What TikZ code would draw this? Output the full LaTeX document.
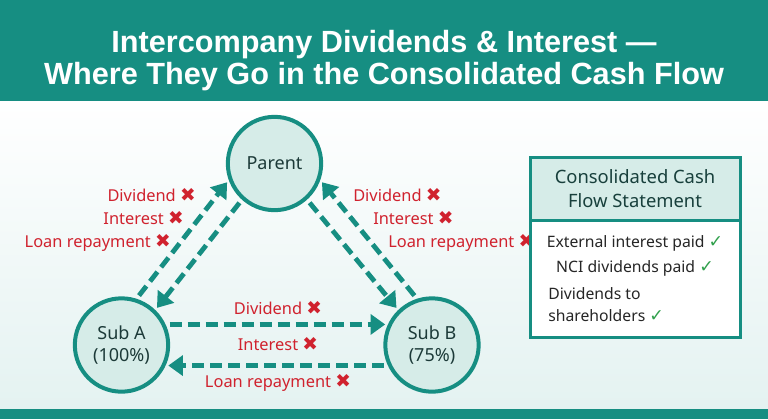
\documentclass[tikz,border=0pt]{standalone}
\definecolor{bandteal}{RGB}{22,142,130}
\definecolor{nodefill}{RGB}{214,236,232}
\definecolor{nodetext}{RGB}{28,58,56}
\definecolor{headtext}{RGB}{24,64,60}
\definecolor{xred}{RGB}{208,34,46}
\definecolor{okgreen}{RGB}{48,160,76}
\definecolor{bgteal}{RGB}{228,242,241}
\usepackage{fontspec}
\setmainfont{Noto Sans}
\newfontfamily\symfont{DejaVu Sans}
\newfontfamily\titlefont{Liberation Sans}
\usepackage{tikz}
\usetikzlibrary{arrows.meta,positioning,calc}
\newcommand{\nomark}{\textcolor{xred}{\symfont\fontsize{14}{14}\selectfont ✖}}
\newcommand{\okmark}{\textcolor{okgreen}{\symfont\fontsize{13}{13}\selectfont ✓}}

\begin{document}
\begin{tikzpicture}[x=0.75pt, y=-0.75pt,
    every node/.style={font=\fontsize{12.3}{14}\selectfont},
    entity/.style={circle, draw=bandteal, line width=3pt, fill=nodefill, text=nodetext,
      minimum size=70pt, inner sep=0pt, align=center, font=\fontsize{13.5}{16.5}\selectfont},
    flow/.style={draw=bandteal, line width=3.6pt, dash pattern=on 9pt off 4.5pt,
      -{Triangle[length=11pt,width=15pt]}, shorten <=3pt, shorten >=2pt},
    lbl/.style={text=xred, inner sep=0pt},
    item/.style={text=black!85, inner sep=0pt, font=\fontsize{11.8}{16.5}\selectfont}]
        \useasboundingbox (0,0) rectangle (768,419);
        % Background and bands
        \shade[top color=white, bottom color=bgteal] (0,100) rectangle (768,409);
        \fill[bandteal] (0,0) rectangle (768,101);
        \fill[bandteal] (0,409) rectangle (768,419);
        \node[text=white, align=center, font=\titlefont\fontsize{23}{24}\selectfont\bfseries] (title) at (384,61)
          {Intercompany Dividends \& Interest —\\Where They Go in the Consolidated Cash Flow};
        % Entities
        \node[entity] (parent) at (274.5,163.5) {Parent};
        \node[entity] (subA) at (121.5,345) {Sub A\\(100\%)};
        \node[entity] (subB) at (432,345) {Sub B\\(75\%)};
        % Flows
        \draw[flow] (subA.72) -- (parent.200);
        \draw[flow] (parent.228) -- (subA.46);
        \draw[flow] (subB.108) -- (parent.340);
        \draw[flow] (parent.312) -- (subB.134);
        \draw[flow] (subA.25) -- (subB.155);
        \draw[flow] (subB.205) -- (subA.335);
        % Labels
        \node[lbl, anchor=east] (la1) at (196,195) {Dividend \nomark};
        \node[lbl, anchor=east] (la2) at (184,218) {Interest \nomark};
        \node[lbl, anchor=east] (la3) at (171,243) {Loan repayment \nomark};
        \node[lbl, anchor=west] (lb1) at (353,195) {Dividend \nomark};
        \node[lbl, anchor=west] (lb2) at (373,218) {Interest \nomark};
        \node[lbl, anchor=west] (lb3) at (388,243) {Loan repayment \nomark};
        \node[lbl] (lc1) at (278,308) {Dividend \nomark};
        \node[lbl] (lc2) at (278,344) {Interest \nomark};
        \node[lbl] (lc3) at (278,383) {Loan repayment \nomark};
        % Cash flow statement
        \fill[white] (530,157) rectangle (740,337);
        \fill[nodefill] (530,157) rectangle (740,220);
        \draw[bandteal, line width=2.25pt] (530,157) rectangle (740,337);
        \draw[bandteal, line width=2.25pt] (530,220) -- (740,220);
        \node[text=headtext, align=center, font=\fontsize{13.8}{17.5}\selectfont] (cfshead) at (635,188.5)
          {Consolidated Cash\\Flow Statement};
        \node[item] (it1) at (635,243) {External interest paid \okmark};
        \node[item] (it2) at (635,268) {NCI dividends paid \okmark};
        \node[item, anchor=west, align=left] (it3) at (548,305) {Dividends to\\shareholders \okmark};
      \end{tikzpicture}
\end{document}
